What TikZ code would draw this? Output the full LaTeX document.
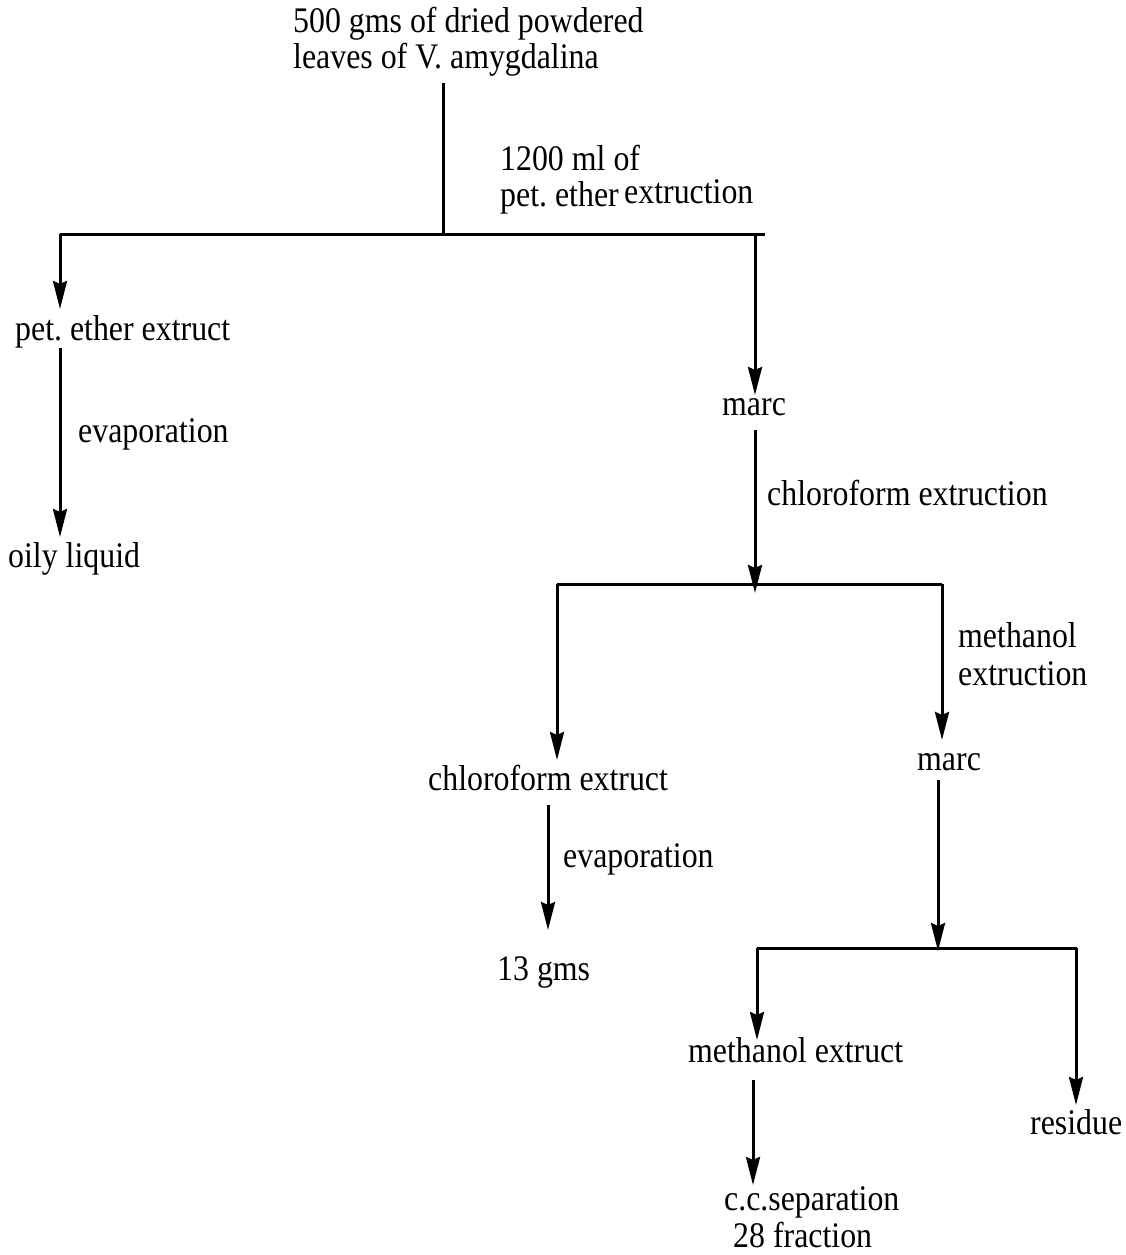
\documentclass[tikz,border=0pt]{standalone}
\usepackage{fontspec}
\setmainfont{Liberation Serif}[FakeStretch=0.885]
\usetikzlibrary{arrows.meta}
\begin{document}
\frenchspacing
\begin{tikzpicture}[x=1pt,y=-1pt,
  lbl/.style={inner sep=0pt, anchor=base west, font=\fontsize{36}{40}\selectfont\frenchspacing},
  ln/.style={line width=3pt},
  arr/.style={ln, -{Stealth[length=28pt,width=14pt,inset=3pt]}}]
\useasboundingbox (0,0) rectangle (1126,1255);
% texts
\node[lbl] (src1) at (293,33) {500 gms of dried powdered};
\node[lbl] (src2) at (293,68) {leaves of V. amygdalina};
\node[lbl] (pe1) at (500,170) {1200 ml of};
\node[lbl] (pe2) at (500,206) {pet. ether};
\node[lbl] (pe3) at (624,203) {extruction};
\node[lbl] (pex) at (15,340) {pet. ether extruct};
\node[lbl] (ev1) at (78,442) {evaporation};
\node[lbl] (oil) at (8,567) {oily liquid};
\node[lbl] (marc1) at (722,415) {marc};
\node[lbl] (chl) at (767,505) {chloroform extruction};
\node[lbl] (me1) at (958,647) {methanol};
\node[lbl] (me2) at (958,685) {extruction};
\node[lbl] (marc2) at (917,770) {marc};
\node[lbl] (chx) at (428,790) {chloroform extruct};
\node[lbl] (ev2) at (563,867) {evaporation};
\node[lbl] (g13) at (497,980) {13 gms};
\node[lbl] (mex) at (688,1062) {methanol extruct};
\node[lbl] (res) at (1030,1134) {residue};
\node[lbl] (cc1) at (724,1210) {c.c.separation};
\node[lbl] (cc2) at (733,1247) {28 fraction};
% junctions and arrow ends
\coordinate (t0) at (443,83);
\coordinate (t1) at (443,234);
\coordinate (hL) at (60,234);
\coordinate (hR) at (765,234);
\coordinate (j1) at (755,234);
\coordinate (a1) at (60,309);
\coordinate (b1) at (60,348);
\coordinate (b2) at (60,537);
\coordinate (a3) at (755,395);
\coordinate (c1) at (755,430);
\coordinate (c2) at (755,593);
\coordinate (kL) at (557,584);
\coordinate (kR) at (942,584);
\coordinate (a5) at (557,760);
\coordinate (d1) at (548,805);
\coordinate (d2) at (548,930);
\coordinate (a7) at (942,740);
\coordinate (e1) at (938,780);
\coordinate (e2) at (938,951);
\coordinate (mL) at (757,948);
\coordinate (mR) at (1077,948);
\coordinate (a9) at (757,1040);
\coordinate (f1) at (753,1080);
\coordinate (f2) at (753,1185);
\coordinate (mR2) at (1076,948);
\coordinate (a11) at (1076,1105);
% lines
\draw[ln] (t0) -- (t1);
\draw[ln] (hL) -- (hR);
\draw[arr] (hL) -- (a1);
\draw[arr] (b1) -- (b2);
\draw[arr] (j1) -- (a3);
\draw[arr] (c1) -- (c2);
\draw[ln] (kL) -- (kR);
\draw[arr] (kL) -- (a5);
\draw[arr] (d1) -- (d2);
\draw[arr] (kR) -- (a7);
\draw[arr] (e1) -- (e2);
\draw[ln] (mL) -- (mR);
\draw[arr] (mL) -- (a9);
\draw[arr] (f1) -- (f2);
\draw[arr] (mR2) -- (a11);
\end{tikzpicture}
\end{document}
